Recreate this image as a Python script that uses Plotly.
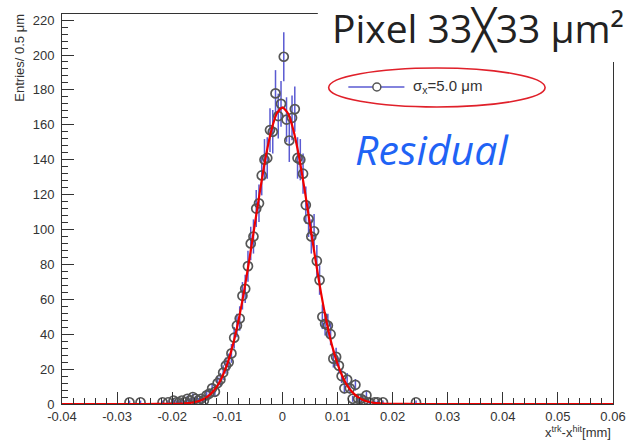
import plotly.graph_objects as go

# ---- data ----
bin_centers = [
    -0.02775, -0.02575, -0.02175, -0.02075, -0.01975, -0.01925, -0.01875, -0.01825,
    -0.01775, -0.01725, -0.01675, -0.01625, -0.01575, -0.01525, -0.01475, -0.01425,
    -0.01375, -0.01325, -0.01275, -0.01225, -0.01175, -0.01125, -0.01075, -0.01025,
    -0.00975, -0.00925, -0.00875, -0.00825, -0.00775, -0.00725, -0.00675, -0.00625,
    -0.00575, -0.00525, -0.00475, -0.00425, -0.00375, -0.00325, -0.00275, -0.00225,
    -0.00175, -0.00125, -0.00075, -0.00025, 0.00025, 0.00075, 0.00125, 0.00175,
    0.00225, 0.00275, 0.00325, 0.00375, 0.00425, 0.00475, 0.00525, 0.00575,
    0.00625, 0.00675, 0.00725, 0.00775, 0.00825, 0.00875, 0.00925, 0.00975,
    0.01025, 0.01075, 0.01125, 0.01175, 0.01225, 0.01275, 0.01325, 0.01375,
    0.01425, 0.01475, 0.01525, 0.01575, 0.01675, 0.01725, 0.01825, 0.02425,
]
entries = [
    1, 1, 1, 1, 2, 1, 1, 2,
    1, 3, 2, 4, 3, 2, 3, 2,
    5, 6, 9, 7, 12, 14, 18, 22,
    24, 29, 38, 45, 49, 62, 66, 79,
    92, 96, 112, 115, 131, 140, 141, 157,
    156, 178, 165, 172, 199, 163, 151, 164,
    169, 141, 140, 132, 114, 106, 96, 99,
    82, 71, 50, 46, 45, 40, 26, 27,
    22, 16, 9, 14, 9, 3, 11, 3,
    3, 2, 5, 1, 1, 1, 1, 1,
]

# Gaussian fit curve
fit_x = [-0.04, -0.03, -0.025, -0.02, -0.019, -0.018, -0.017, -0.016, -0.015, -0.014,
         -0.013, -0.012, -0.011, -0.010, -0.009, -0.008, -0.007, -0.006, -0.005,
         -0.004, -0.003, -0.002, -0.001, 0.0, 0.001, 0.002, 0.003, 0.004, 0.005,
         0.006, 0.007, 0.008, 0.009, 0.010, 0.011, 0.012, 0.013, 0.014, 0.015,
         0.016, 0.017, 0.018, 0.019, 0.020, 0.025, 0.03, 0.04, 0.05, 0.06]
fit_y = [0, 0, 0, 0.1, 0.1, 0.3, 0.5, 1.0, 1.9, 3.4,
         5.8, 9.5, 15.1, 23.0, 33.6, 47.3, 63.8, 82.8, 103.1,
         123.4, 142.0, 156.9, 166.6, 170.0, 166.6, 156.9, 142.0, 123.4, 103.1,
         82.8, 63.8, 47.3, 33.6, 23.0, 15.1, 9.5, 5.8, 3.4, 1.9,
         1.0, 0.5, 0.3, 0.1, 0.1, 0, 0, 0, 0, 0]

legend_label = "σ<sub>x</sub>=5.0 μm"
title_text = "Pixel 33╳33 μm²"
annot_text = "Residual"
y_title = "Entries/ 0.5 μm"
x_title = "x<sup>trk</sup>-x<sup>hit</sup>[mm]"

x_ticks = [-0.04, -0.03, -0.02, -0.01, 0, 0.01, 0.02, 0.03, 0.04, 0.05, 0.06]
x_ticklabels = ["-0.04", "-0.03", "-0.02", "-0.01", "0", "0.01", "0.02", "0.03", "0.04", "0.05", "0.06"]
y_ticks = [0, 20, 40, 60, 80, 100, 120, 140, 160, 180, 200, 220]

# ---- figure ----
W, H = 638, 444
ML, MR, MT, MB = 62, 16, 14, 40
PW, PH = W - ML - MR, H - MT - MB


def px(xp):
    return (xp - ML) / PW


def py(yp):
    return (H - MB - yp) / PH


fig = go.Figure()

fig.add_trace(go.Scatter(
    x=bin_centers, y=entries, mode="markers", name=legend_label,
    marker=dict(symbol="circle-open", size=9, color="#555555",
                line=dict(width=1.7, color="#555555")),
    error_y=dict(type="sqrt", visible=True, color="#5a5ad2", thickness=1.5, width=0),
    showlegend=False,
))

fig.add_trace(go.Scatter(
    x=fit_x, y=fit_y, mode="lines", line=dict(color="#ee0000", width=2.2, shape="spline", smoothing=0.6),
    showlegend=False, hoverinfo="skip",
))

axis_common = dict(
    showgrid=False, zeroline=False, showline=True, linecolor="#333333", linewidth=1,
    mirror=True, ticks="inside", tickcolor="#333333", tickwidth=1, ticklen=12,
    tickfont=dict(family="Liberation Sans, Arial, sans-serif", size=13, color="#333333"),
)

fig.update_xaxes(range=[-0.04, 0.06], tickvals=x_ticks, ticktext=x_ticklabels,
                 minor=dict(ticks="inside", ticklen=6, dtick=0.002, tick0=0, tickcolor="#333333"),
                 **axis_common)
fig.update_yaxes(range=[0, 223.5], tickvals=y_ticks,
                 minor=dict(ticks="inside", ticklen=6, dtick=4, tick0=0, tickcolor="#333333"),
                 ticklabelstandoff=4, **axis_common)

shapes = []
# white box behind the title (covers the frame corner)
shapes.append(dict(type="rect", xref="paper", yref="paper", x0=px(322), x1=px(640),
                   y0=py(62), y1=py(-2), fillcolor="white", line=dict(width=0), layer="above"))
# legend: red ellipse
shapes.append(dict(type="circle", xref="paper", yref="paper", x0=px(333), x1=px(553),
                   y0=py(107), y1=py(68), line=dict(color="#e0202a", width=1.6), layer="above"))
# legend symbol: blue line + open circle
shapes.append(dict(type="line", xref="paper", yref="paper", x0=px(353), x1=px(410),
                   y0=py(87), y1=py(87), line=dict(color="#5a5ad2", width=1.5), layer="above"))
shapes.append(dict(type="circle", xref="paper", yref="paper", xsizemode="pixel", ysizemode="pixel",
                   xanchor=px(382), yanchor=py(87), x0=-4, x1=4, y0=-4, y1=4,
                   fillcolor="white", line=dict(color="#555555", width=1.5), layer="above"))

annotations = [
    dict(text=title_text, xref="paper", yref="paper", x=px(334), y=py(28),
         xanchor="left", yanchor="middle", showarrow=False,
         font=dict(family="Open Sans, DejaVu Sans, sans-serif", size=39, color="#222222")),
    dict(text=legend_label, xref="paper", yref="paper", x=px(417), y=py(86),
         xanchor="left", yanchor="middle", showarrow=False,
         font=dict(family="Liberation Sans, Arial, sans-serif", size=15, color="#333333")),
    dict(text="<i>" + annot_text + "</i>", xref="paper", yref="paper", x=px(438), y=py(149),
         xanchor="center", yanchor="middle", showarrow=False,
         font=dict(family="Open Sans, sans-serif", size=41, color="#1f63f5")),
    dict(text=y_title, xref="paper", yref="paper", x=px(18), y=py(12),
         xanchor="center", yanchor="top", textangle=-90, showarrow=False,
         font=dict(family="Liberation Sans, Arial, sans-serif", size=13, color="#333333")),
    dict(text=x_title, xref="paper", yref="paper", x=1.0, y=py(432),
         xanchor="right", yanchor="middle", showarrow=False,
         font=dict(family="Liberation Sans, Arial, sans-serif", size=13, color="#333333")),
]

fig.update_layout(
    width=W, height=H, margin=dict(l=ML, r=MR, t=MT, b=MB),
    paper_bgcolor="white", plot_bgcolor="white",
    shapes=shapes, annotations=annotations, showlegend=False,
)

fig.write_html("out.html")
